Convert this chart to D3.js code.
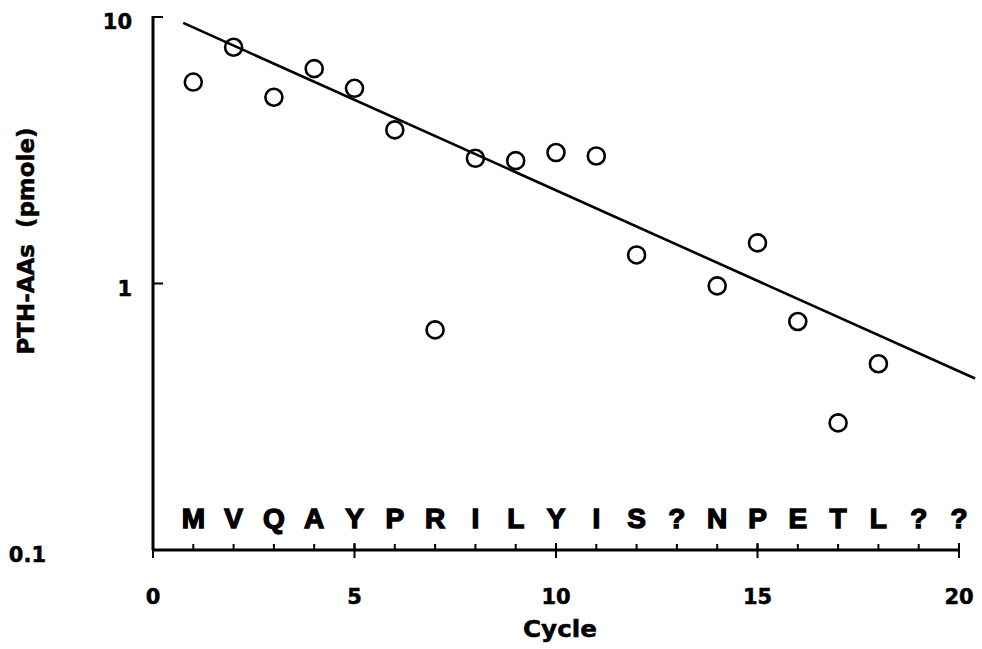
<!DOCTYPE html>
<html>
<head>
<meta charset="utf-8">
<script src="https://cdn.jsdelivr.net/npm/d3@7"></script>
<style>
  html, body { margin: 0; padding: 0; background: #fff; }
  svg text { font-family: "DejaVu Sans", sans-serif; font-weight: bold; fill: #000; stroke: #000; stroke-width: 0.5; }
  svg text.residue { font-family: "Liberation Sans", Arial, sans-serif; stroke-width: 1.4; }
</style>
</head>
<body>
<svg id="chart" width="982" height="649"></svg>
<script>
// measured cycles (13 was not recovered)
const cycles = [1, 2, 3, 4, 5, 6, 7, 8, 9, 10, 11, 12, 14, 15, 16, 17, 18];
const yields = [5.7, 7.7, 5.0, 6.4, 5.4, 3.77, 0.67, 2.95, 2.89, 3.1, 3.01, 1.28, 0.98, 1.42, 0.72, 0.30, 0.50];

// exponential fit, drawn as a straight line on the log axis
const fitCycles = [0.75, 20.4];
const fitYields = [9.5, 0.44];

const residues = ["M", "V", "Q", "A", "Y", "P", "R", "I", "L", "Y", "I", "S", "?", "N", "P", "E", "T", "L", "?", "?"];
const xMajorTicks = [0, 5, 10, 15, 20];
const xMinorTicks = d3.range(1, 20);
const yTicks = [10, 1, 0.1];
const yTickLabels = ["10", "1", "0.1"];

const svg = d3.select("#chart");
const x = d3.scaleLinear().domain([0, 20]).range([153, 959]);
const y = d3.scaleLog().domain([0.1, 10]).range([550, 17]);
const bottom = y(0.1);
const left = x(0);

// axis lines
svg.append("line")
  .attr("x1", left).attr("x2", left)
  .attr("y1", y(10) - 1).attr("y2", bottom)
  .attr("stroke", "#000").attr("stroke-width", 3);
svg.append("line")
  .attr("x1", left).attr("x2", x(20))
  .attr("y1", bottom).attr("y2", bottom)
  .attr("stroke", "#000").attr("stroke-width", 3);

// x ticks
svg.append("g").selectAll("line")
  .data(xMinorTicks)
  .join("line")
  .attr("x1", (d) => x(d)).attr("x2", (d) => x(d))
  .attr("y1", bottom - 6).attr("y2", bottom)
  .attr("stroke", "#000").attr("stroke-width", 2);
svg.append("g").selectAll("line")
  .data(xMajorTicks)
  .join("line")
  .attr("x1", (d) => x(d)).attr("x2", (d) => x(d))
  .attr("y1", (d) => (d === 0 ? bottom : bottom - 7)).attr("y2", bottom + 8)
  .attr("stroke", "#000").attr("stroke-width", 2);
svg.append("g").selectAll("text")
  .data(xMajorTicks)
  .join("text")
  .attr("x", (d) => x(d))
  .attr("y", bottom + 54)
  .attr("text-anchor", "middle")
  .attr("font-size", 21)
  .text((d) => d);

// y ticks
svg.append("g").selectAll("line")
  .data(yTicks.filter((d) => d > 0.1))
  .join("line")
  .attr("x1", left).attr("x2", left + 10)
  .attr("y1", (d) => y(d)).attr("y2", (d) => y(d))
  .attr("stroke", "#000").attr("stroke-width", 2);
svg.append("g").selectAll("text")
  .data(yTicks)
  .join("text")
  .attr("x", (d) => (d === 0.1 ? 46 : 132))
  .attr("y", (d) => y(d) + 12)
  .attr("text-anchor", "end")
  .attr("font-size", 21)
  .text((d, i) => yTickLabels[i]);

// fit line
svg.append("path")
  .datum(fitCycles.map((c, i) => [c, fitYields[i]]))
  .attr("d", d3.line().x((d) => x(d[0])).y((d) => y(d[1])))
  .attr("fill", "none")
  .attr("stroke", "#000")
  .attr("stroke-width", 2.6);

// data points
svg.append("g").selectAll("circle")
  .data(cycles.map((c, i) => [c, yields[i]]))
  .join("circle")
  .attr("cx", (d) => x(d[0]))
  .attr("cy", (d) => y(d[1]))
  .attr("r", 8.5)
  .attr("fill", "none")
  .attr("stroke", "#000")
  .attr("stroke-width", 2.6);

// sequence letters
svg.append("g").selectAll("text")
  .data(residues)
  .join("text")
  .attr("class", "residue")
  .attr("x", (d, i) => x(i + 1))
  .attr("y", bottom - 22)
  .attr("text-anchor", "middle")
  .attr("font-size", 28)
  .text((d) => d);

// axis titles
svg.append("text")
  .attr("x", 560)
  .attr("y", 637)
  .attr("text-anchor", "middle")
  .attr("font-size", 23)
  .attr("textLength", 74)
  .attr("lengthAdjust", "spacingAndGlyphs")
  .text("Cycle");

svg.append("text")
  .attr("transform", "translate(34,241) rotate(-90)")
  .attr("text-anchor", "middle")
  .attr("font-size", 23)
  .attr("textLength", 227)
  .attr("lengthAdjust", "spacingAndGlyphs")
  .attr("xml:space", "preserve")
  .text("PTH-AAs  (pmole)");
</script>
</body>
</html>
